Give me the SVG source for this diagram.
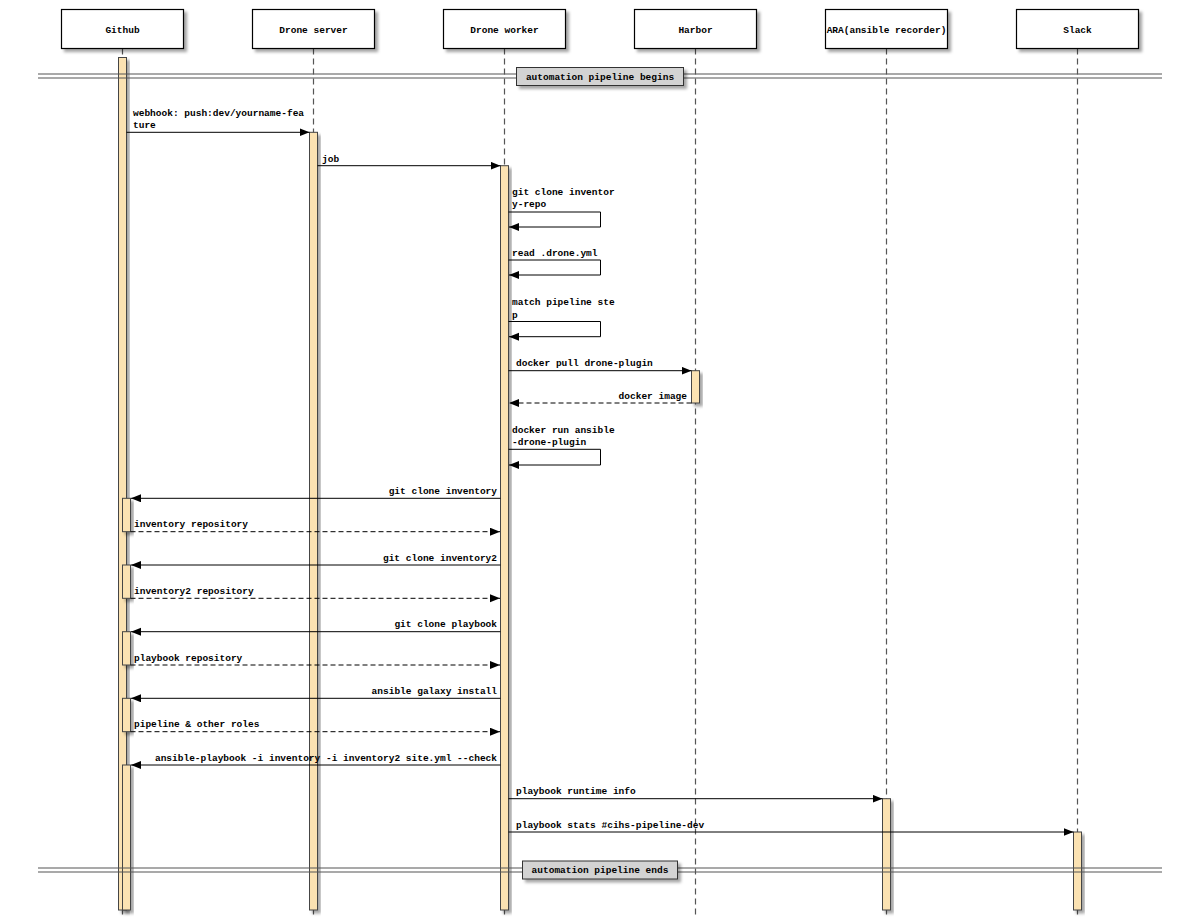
<svg xmlns="http://www.w3.org/2000/svg" width="1200" height="922" viewBox="0 0 1200 922">
<defs>
<style>
.t{font-family:"Liberation Mono","DejaVu Sans Mono",monospace;font-size:9.5px;font-weight:bold;fill:#000}
.e{text-anchor:end}
.m{text-anchor:middle}
.hd{fill:#fff;stroke:#000;stroke-width:1.2}
.ll{stroke:#555;stroke-width:1.2;stroke-dasharray:6 4;fill:none}
.bar{fill:#fbe2b2;stroke:#444;stroke-width:1}
.msg{stroke:#000;stroke-width:1;fill:none;marker-end:url(#ah)}
.ret{stroke:#000;stroke-width:1;fill:none;stroke-dasharray:5 3;marker-end:url(#ah)}
.dl{stroke:#555;stroke-width:1.2}
.dlbox{fill:#d3d3d3;stroke:#333;stroke-width:1}
</style>
<marker id="ah" markerUnits="userSpaceOnUse" markerWidth="11" markerHeight="9" refX="10" refY="4" orient="auto">
<path d="M0,0 L10,4 L0,8 z" fill="#000"/>
</marker>
<filter id="sh" x="-20%" y="-20%" width="160%" height="160%">
<feDropShadow dx="3" dy="3" stdDeviation="1.8" flood-color="#000" flood-opacity="0.35"/>
</filter>
</defs>
<rect width="1200" height="922" fill="#fff"/>

<g id="github">
<line class="ll" x1="122.5" y1="48.5" x2="122.5" y2="916"/>
<rect class="hd" x="61.5" y="9.5" width="122" height="39" filter="url(#sh)"/>
<text class="t m" x="122.5" y="32.5">Github</text>
<rect class="bar" x="118.5" y="57.5" width="8" height="852.5" filter="url(#sh)"/>
<rect class="bar" x="122.5" y="498.3" width="8" height="33.4" filter="url(#sh)"/>
<rect class="bar" x="122.5" y="565" width="8" height="33.3" filter="url(#sh)"/>
<rect class="bar" x="122.5" y="631.7" width="8" height="33.3" filter="url(#sh)"/>
<rect class="bar" x="122.5" y="698.3" width="8" height="33.4" filter="url(#sh)"/>
<rect class="bar" x="122.5" y="765" width="8" height="145" filter="url(#sh)"/>
</g>

<g id="drone-server">
<line class="ll" x1="313.5" y1="48.5" x2="313.5" y2="916"/>
<rect class="hd" x="252.5" y="9.5" width="122" height="39" filter="url(#sh)"/>
<text class="t m" x="313.5" y="32.5">Drone server</text>
<rect class="bar" x="309.5" y="132.3" width="8" height="777.7" filter="url(#sh)"/>
</g>

<g id="drone-worker">
<line class="ll" x1="504.5" y1="48.5" x2="504.5" y2="916"/>
<rect class="hd" x="443.5" y="9.5" width="122" height="39" filter="url(#sh)"/>
<text class="t m" x="504.5" y="32.5">Drone worker</text>
<rect class="bar" x="500.5" y="165.7" width="8" height="744.3" filter="url(#sh)"/>
</g>

<g id="harbor">
<line class="ll" x1="695.5" y1="48.5" x2="695.5" y2="916"/>
<rect class="hd" x="634.5" y="9.5" width="122" height="39" filter="url(#sh)"/>
<text class="t m" x="695.5" y="32.5">Harbor</text>
<rect class="bar" x="691.5" y="370.7" width="8" height="32.3" filter="url(#sh)"/>
</g>

<g id="ara">
<line class="ll" x1="886.5" y1="48.5" x2="886.5" y2="916"/>
<rect class="hd" x="825.5" y="9.5" width="122" height="39" filter="url(#sh)"/>
<text class="t m" x="886.5" y="32.5">ARA(ansible recorder)</text>
<rect class="bar" x="882.5" y="798.7" width="8" height="111.3" filter="url(#sh)"/>
</g>

<g id="slack">
<line class="ll" x1="1077.5" y1="48.5" x2="1077.5" y2="916"/>
<rect class="hd" x="1016.5" y="9.5" width="122" height="39" filter="url(#sh)"/>
<text class="t m" x="1077.5" y="32.5">Slack</text>
<rect class="bar" x="1073.5" y="832" width="8" height="78" filter="url(#sh)"/>
</g>

<g id="divider-begins">
<line class="dl" x1="38" y1="74" x2="1162" y2="74"/>
<line class="dl" x1="38" y1="78" x2="1162" y2="78"/>
<rect class="dlbox" x="516.5" y="67.5" width="167" height="18" filter="url(#sh)"/>
<text class="t m" x="600" y="79.5">automation pipeline begins</text>
</g>

<g id="divider-ends">
<line class="dl" x1="38" y1="868" x2="1162" y2="868"/>
<line class="dl" x1="38" y1="872" x2="1162" y2="872"/>
<rect class="dlbox" x="522.5" y="861" width="155" height="18" filter="url(#sh)"/>
<text class="t m" x="600" y="873">automation pipeline ends</text>
</g>

<g id="connectors">
<line class="msg" x1="126.5" y1="132.3" x2="309.5" y2="132.3"/>
<text class="t" x="133" y="115.5">webhook: push:dev/yourname-fea</text>
<text class="t" x="133" y="128">ture</text>

<line class="msg" x1="317.5" y1="165.7" x2="500.5" y2="165.7"/>
<text class="t" x="322" y="161.5">job</text>

<path class="msg" d="M508.5,212 H600.5 V227 H509"/>
<text class="t" x="512" y="194.5">git clone inventor</text>
<text class="t" x="512" y="207">y-repo</text>

<path class="msg" d="M508.5,260 H600.5 V275 H509"/>
<text class="t" x="512" y="256">read .drone.yml</text>

<path class="msg" d="M508.5,321.5 H600.5 V336.7 H509"/>
<text class="t" x="512" y="305">match pipeline ste</text>
<text class="t" x="512" y="317.5">p</text>

<line class="msg" x1="508.5" y1="370.7" x2="691.5" y2="370.7"/>
<text class="t" x="516" y="366">docker pull drone-plugin</text>

<line class="ret" x1="691.5" y1="403" x2="509" y2="403"/>
<text class="t e" x="687" y="399">docker image</text>

<path class="msg" d="M508.5,449.3 H600.5 V465 H509"/>
<text class="t" x="512" y="432.7">docker run ansible</text>
<text class="t" x="512" y="445">-drone-plugin</text>

<line class="msg" x1="500.5" y1="498.3" x2="131" y2="498.3"/>
<text class="t e" x="497" y="494">git clone inventory</text>
<line class="ret" x1="130.5" y1="531.7" x2="500" y2="531.7"/>
<text class="t" x="134" y="527.4">inventory repository</text>

<line class="msg" x1="500.5" y1="565" x2="131" y2="565"/>
<text class="t e" x="497" y="560.7">git clone inventory2</text>
<line class="ret" x1="130.5" y1="598.3" x2="500" y2="598.3"/>
<text class="t" x="134" y="594">inventory2 repository</text>

<line class="msg" x1="500.5" y1="631.7" x2="131" y2="631.7"/>
<text class="t e" x="497" y="627.4">git clone playbook</text>
<line class="ret" x1="130.5" y1="665" x2="500" y2="665"/>
<text class="t" x="134" y="660.7">playbook repository</text>

<line class="msg" x1="500.5" y1="698.3" x2="131" y2="698.3"/>
<text class="t e" x="497" y="694">ansible galaxy install</text>
<line class="ret" x1="130.5" y1="731.7" x2="500" y2="731.7"/>
<text class="t" x="134" y="727.4">pipeline &amp; other roles</text>

<line class="msg" x1="500.5" y1="765" x2="131" y2="765"/>
<text class="t e" x="497" y="760.7">ansible-playbook -i inventory -i inventory2 site.yml --check</text>

<line class="msg" x1="508.5" y1="798.7" x2="882.5" y2="798.7"/>
<text class="t" x="516" y="794.4">playbook runtime info</text>

<line class="msg" x1="508.5" y1="832" x2="1073.5" y2="832"/>
<text class="t" x="516" y="827.7">playbook stats #cihs-pipeline-dev</text>
</g>
</svg>
